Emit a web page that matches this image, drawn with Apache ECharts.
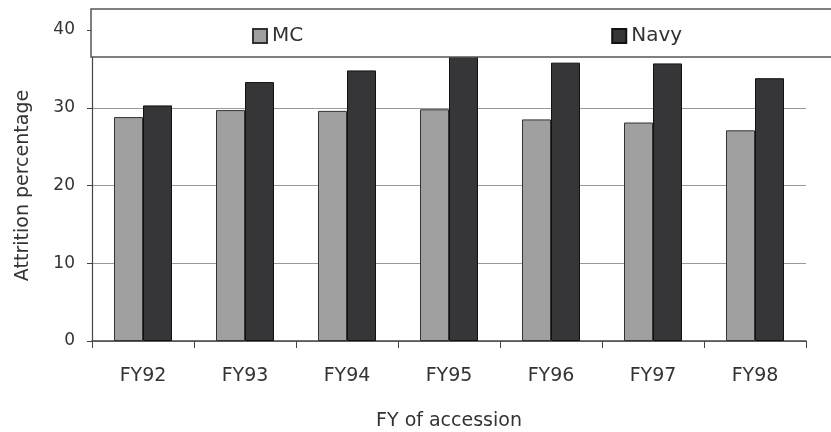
<!DOCTYPE html>
<html>
<head>
<meta charset="utf-8">
<script src="https://cdn.jsdelivr.net/npm/echarts@6/dist/echarts.min.js"></script>
<style>
  html, body { margin: 0; padding: 0; background: #fff; }
  #chart { width: 831px; height: 432px; }
</style>
</head>
<body>
<div id="chart"></div>
<script>
// Attrition percentage by fiscal year of accession
const categories = ['FY92', 'FY93', 'FY94', 'FY95', 'FY96', 'FY97', 'FY98'];
const mcValues   = [28.8, 29.7, 29.6, 29.8, 28.5, 28.1, 27.1];
const navyValues = [30.3, 33.3, 34.8, 37.0, 35.8, 35.7, 33.8];
const yTicks = { min: 0, max: 40, interval: 10 };

const FONT = '"DejaVu Sans", sans-serif';
const TEXT = '#333';

const chart = echarts.init(document.getElementById('chart'));
chart.setOption({
  animation: false,
  backgroundColor: '#fff',
  textStyle: { fontFamily: FONT, color: TEXT },
  grid: { left: 92, right: 25, top: 30, bottom: 91, containLabel: false, outerBoundsMode: 'none' },
  // white legend frame laid over the top of the plot
  graphic: [{
    type: 'rect',
    z: 10,
    shape: { x: 91, y: 9, width: 760, height: 48 },
    style: { fill: '#fff', stroke: '#555', lineWidth: 1.5 }
  }],
  legend: {
    z: 20,
    left: 247,
    top: 21,
    itemWidth: 14,
    itemHeight: 14,
    itemGap: 308,
    icon: 'rect',
    textStyle: { fontFamily: FONT, fontSize: 20, color: TEXT },
    data: ['MC', 'Navy']
  },
  xAxis: {
    type: 'category',
    data: categories,
    name: 'FY of accession',
    nameLocation: 'middle',
    nameGap: 71,
    nameTextStyle: { fontFamily: FONT, fontSize: 19, color: TEXT },
    axisLine: { show: true, lineStyle: { color: '#444', width: 1.5 } },
    axisTick: { show: true, alignWithLabel: false, length: 7, lineStyle: { color: '#444' } },
    axisLabel: { margin: 26, fontFamily: FONT, fontSize: 19, color: TEXT },
    splitLine: { show: false }
  },
  yAxis: {
    type: 'value',
    min: yTicks.min,
    max: yTicks.max,
    interval: yTicks.interval,
    name: 'Attrition percentage',
    nameLocation: 'middle',
    nameGap: 59,
    nameTextStyle: { fontFamily: FONT, fontSize: 19, color: TEXT },
    axisLine: { show: true, lineStyle: { color: '#444', width: 1.2 } },
    axisTick: { show: true, length: 5, lineStyle: { color: '#444' } },
    axisLabel: { margin: 17, fontFamily: FONT, fontSize: 17, color: TEXT },
    splitLine: { show: true, lineStyle: { color: '#999', width: 1 } }
  },
  series: [
    {
      name: 'MC',
      type: 'bar',
      data: mcValues,
      barWidth: 29,
      barGap: '0%',
      itemStyle: { color: '#a0a0a0', borderColor: '#333', borderWidth: 1 }
    },
    {
      name: 'Navy',
      type: 'bar',
      data: navyValues,
      barWidth: 29,
      barGap: '0%',
      itemStyle: { color: '#363638', borderColor: '#111', borderWidth: 1 }
    }
  ]
});
</script>
</body>
</html>
